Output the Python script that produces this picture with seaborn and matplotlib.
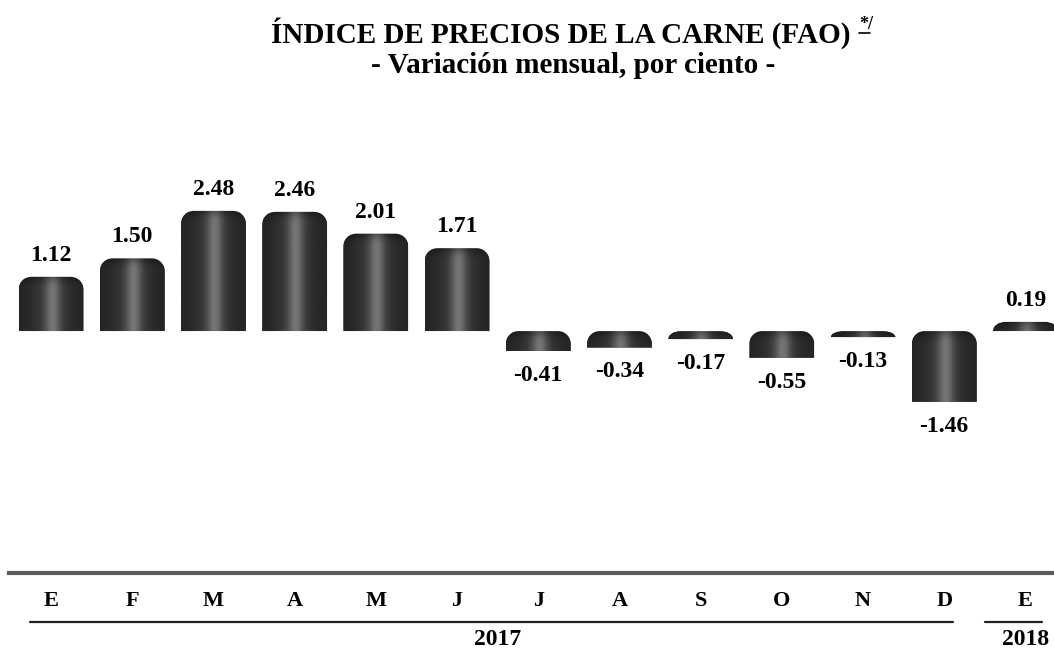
import numpy as np
import pandas as pd
import matplotlib
matplotlib.use('Agg')
import matplotlib.pyplot as plt
import seaborn as sns
from matplotlib.path import Path
from matplotlib.patches import PathPatch
from matplotlib.lines import Line2D
from matplotlib.transforms import blended_transform_factory

# datos
periodos = ['Ene-17', 'Feb-17', 'Mar-17', 'Abr-17', 'May-17', 'Jun-17', 'Jul-17',
            'Ago-17', 'Sep-17', 'Oct-17', 'Nov-17', 'Dic-17', 'Ene-18']
meses = ['E', 'F', 'M', 'A', 'M', 'J', 'J', 'A', 'S', 'O', 'N', 'D', 'E']
variacion = [1.12, 1.50, 2.48, 2.46, 2.01, 1.71, -0.41, -0.34, -0.17, -0.55, -0.13, -1.46, 0.19]
anios = ['2017', '2018']
meses_por_anio = [12, 1]

df = pd.DataFrame({'periodo': periodos, 'variacion': variacion})

sns.set_style('white')
plt.rcParams['font.family'] = ['Liberation Serif', 'DejaVu Serif']
plt.rcParams['font.weight'] = 'bold'
plt.rcParams['text.color'] = 'black'

fig = plt.figure(figsize=(10.54, 6.51), dpi=100)
ax = fig.add_axes([0, 78 / 651, 1, 573 / 651])

sns.barplot(data=df, x='periodo', y='variacion', color='#2e2e2e', saturation=1,
            width=0.8, ax=ax)
ax.set_xlim(-0.628, 12.352)
ax.set_ylim(-4.99, 6.83)

# barras tipo cilindro: esquinas superiores redondeadas + degradado
sx = ax.transData.transform((1, 0))[0] - ax.transData.transform((0, 0))[0]
sy = ax.transData.transform((0, 1))[1] - ax.transData.transform((0, 0))[1]
r_px = 13
k = 0.5523
codes = [Path.MOVETO, Path.LINETO, Path.CURVE4, Path.CURVE4, Path.CURVE4, Path.LINETO,
         Path.CURVE4, Path.CURVE4, Path.CURVE4, Path.LINETO, Path.CLOSEPOLY]
for bar in list(ax.patches):
    x0 = bar.get_x()
    w = bar.get_width()
    x1 = x0 + w
    y0 = bar.get_y()
    h = bar.get_height()
    bot, top = min(y0, y0 + h), max(y0, y0 + h)
    rx = min(r_px / sx, w / 2)
    ry = min(r_px / sy, top - bot)
    verts = [(x0, bot), (x0, top - ry), (x0, top - ry + k * ry), (x0 + rx - k * rx, top),
             (x0 + rx, top), (x1 - rx, top), (x1 - rx + k * rx, top), (x1, top - ry + k * ry),
             (x1, top - ry), (x1, bot), (x0, bot)]
    clip = PathPatch(Path(verts, codes), transform=ax.transData,
                     facecolor='none', edgecolor='none')
    bar.set_clip_path(clip)

    hp = max(int(round((top - bot) * sy)), 2)
    t = np.linspace(0, 1, 80)
    prof = (0.14 + 0.10 * np.exp(-((t - 0.5) / 0.30) ** 2)
            + 0.22 * np.exp(-((t - 0.52) / 0.12) ** 2))
    s = np.arange(hp)
    cap = 1 - 0.35 * np.clip(1 - s / r_px, 0, 1) ** 2
    img = cap[:, None] * prof[None, :]
    im = ax.imshow(img, cmap='gray', vmin=0, vmax=1, extent=(x0, x1, bot, top),
                   origin='upper', aspect='auto', interpolation='bilinear', zorder=3)
    im.set_clip_path(clip)

ax.set_xlim(-0.628, 12.352)
ax.set_ylim(-4.99, 6.83)

# etiquetas de valores
cont = ax.containers[0]
ax.bar_label(cont, labels=[f'{v:.2f}' if v > 0 else '' for v in variacion],
             padding=8, fontsize=17, fontweight='bold', color='black')
ax.bar_label(cont, labels=[f'{v:.2f}' if v < 0 else '' for v in variacion],
             padding=10, fontsize=17, fontweight='bold', color='black')

# eje x
ax.set_xticks(range(len(meses)))
ax.set_xticklabels(meses, fontsize=16, fontweight='bold', color='black')
ax.tick_params(axis='x', length=0, pad=13)
ax.set_yticks([])
ax.set_xlabel('')
ax.set_ylabel('')
sns.despine(ax=ax, left=True)
ax.spines['bottom'].set_color('#5c5c5c')
ax.spines['bottom'].set_linewidth(3)
ax.spines['bottom'].set_bounds(-0.52, 12.352)

# años con su raya
trans = blended_transform_factory(ax.transData, fig.transFigure)
linea_anios = [(-0.26, 11.11), (11.5, 12.2)]
inicio = 0
for anio, n, (la, lb) in zip(anios, meses_por_anio, linea_anios):
    ax.plot([la, lb], [1 - 622 / 651] * 2, color='#222222', lw=1.6,
            transform=trans, clip_on=False)
    ax.text(inicio + (n - 1) / 2, 6 / 651, anio, transform=trans, ha='center',
            va='baseline', fontsize=17, fontweight='bold', color='black', clip_on=False)
    inicio += n

# títulos
titulo = fig.text(561 / 1054, 1 - 43 / 651, 'ÍNDICE DE PRECIOS DE LA CARNE (FAO)',
                  ha='center', va='baseline', fontsize=21, fontweight='bold')
fig.text(573 / 1054, 1 - 73 / 651, '- Variación mensual, por ciento -',
         ha='center', va='baseline', fontsize=21, fontweight='bold')
renderer = fig.canvas.get_renderer()
bb = titulo.get_window_extent(renderer)
xs = bb.x1 + 8
fig.text(xs / 1054, 1 - 29 / 651, '*/', ha='left', va='baseline', fontsize=13,
         fontweight='bold')
fig.add_artist(Line2D([xs / 1054, (xs + 11) / 1054], [1 - 33 / 651] * 2,
                      transform=fig.transFigure, color='black', lw=1.2))

fig.savefig('out.png', dpi=100)
